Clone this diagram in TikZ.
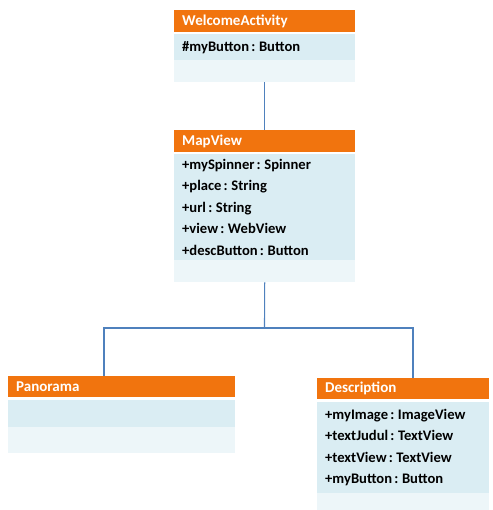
\documentclass[tikz,border=0pt]{standalone}
\usepackage{fontspec}
\setmainfont{Carlito}
\definecolor{hdr}{RGB}{241,116,14}
\definecolor{bodyc}{RGB}{218,237,243}
\definecolor{lowc}{RGB}{237,246,249}
\definecolor{conc}{RGB}{79,129,189}
\newcommand{\ty}{\hspace{0.15em}:\hspace{0.25em}}
\tikzset{
  hdrbox/.style={fill=hdr, draw=none, anchor=north west, inner xsep=8pt, inner ysep=0pt,
    text=white, font=\fontsize{15}{17}\selectfont\bfseries, align=left},
  bodybox/.style={fill=bodyc, draw=none, anchor=north west, inner xsep=8pt, inner ysep=0pt,
    text=black, font=\fontsize{14.6}{21.5}\selectfont\bfseries, align=left},
  lowbox/.style={fill=lowc, draw=none, anchor=north west, inner sep=0pt},
  conn/.style={draw=conc, line width=1.1pt}
}
\begin{document}
\begin{tikzpicture}[x=1pt,y=-1pt]
\useasboundingbox (0,0) rectangle (492,510);
% WelcomeActivity
\node[hdrbox, text width=165pt, minimum height=22pt] (wa) at (174,10) {WelcomeActivity};
\node[bodybox, text width=165pt, minimum height=26pt] (wab) at (174,34) {\#myButton\ty Button};
\node[lowbox, minimum width=181pt, minimum height=22pt] (wal) at (174,60) {};
% MapView
\node[hdrbox, text width=165pt, minimum height=22pt] (mv) at (174,130) {MapView};
\node[bodybox, text width=165pt, minimum height=106pt] (mvb) at (174,154) {+mySpinner\ty Spinner\\+place\ty String\\+url\ty String\\+view\ty WebView\\+descButton\ty Button};
\node[lowbox, minimum width=181pt, minimum height=22pt] (mvl) at (174,260) {};
% Panorama
\node[hdrbox, text width=211pt, minimum height=21pt] (pa) at (8,376) {Panorama};
\node[bodybox, text width=211pt, minimum height=27pt] (pab) at (8,400) {};
\node[lowbox, minimum width=227pt, minimum height=26pt] (pal) at (8,427) {};
% Description
\node[hdrbox, text width=156pt, minimum height=21pt] (de) at (317,378) {Description};
\node[bodybox, text width=156pt, minimum height=91pt] (deb) at (317,402) {+myImage\ty ImageView\\+textJudul\ty TextView\\+textView\ty TextView\\+myButton\ty Button};
\node[lowbox, minimum width=172pt, minimum height=17pt] (del) at (317,493) {};
% connectors
\coordinate (j) at (264.5,328);
\coordinate (pt) at (104,376);
\coordinate (dt) at (413,378);
\draw[conn] (wal.south) -- (mv.north);
\draw[conn] (mvl.south) -- (j);
\draw[conn] (pt) |- (j) -| (dt);
\end{tikzpicture}
\end{document}
